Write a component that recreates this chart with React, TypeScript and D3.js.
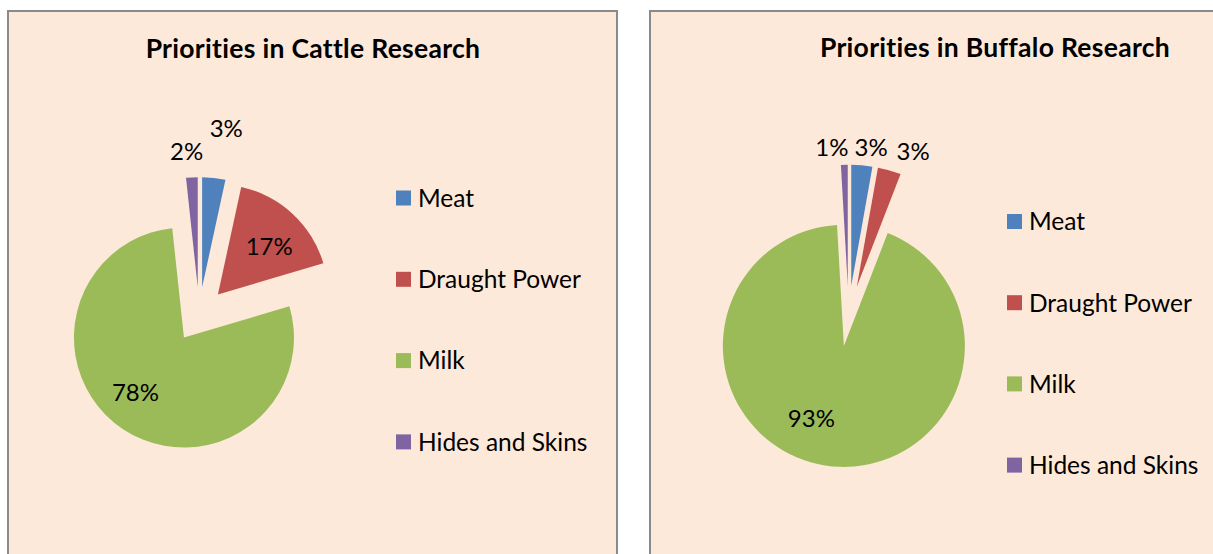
import React from 'react';
import * as d3 from 'd3';

const categories = ['Meat', 'Draught Power', 'Milk', 'Hides and Skins'];
const cattleValues = [3.4, 17.0, 77.9, 1.7];
const buffaloValues = [2.8, 3.1, 93.2, 0.9];
const titles = ['Priorities in Cattle Research', 'Priorities in Buffalo Research'];
const colors = ['#4F81BD', '#C0504D', '#9BBB59', '#8064A2'];

// label placement: [angle offset from slice mid (deg), radius factor]
const cattleLabelPlacement = [[2.5, 1.465], [4, 0.64], [7.7, 0.667], [-1.6, 1.24]];
const buffaloLabelPlacement = [[3.1, 1.16], [7.0, 1.21], [15, 0.66], [-4.9, 1.155]];

const FONT = "Lato, 'Open Sans', sans-serif";
const LABEL_FS = 24;
const LEGEND_FS = 24.5;
const TITLE_FS = 26.5;

type PanelCfg = {
  x: number; y: number; w: number; h: number;
  cx: number; cy: number; r: number; explode: number;
  titleX: number; titleY: number;
  legendX: number; legendY0: number; legendStep: number;
  values: number[]; title: string; placement: number[][];
};

const panels: PanelCfg[] = [
  {
    x: 8, y: 11, w: 609, h: 580, cx: 199.2, cy: 314.7, r: 110, explode: 0.25,
    titleX: 313, titleY: 58.3, legendX: 396, legendY0: 198, legendStep: 81.3,
    values: cattleValues, title: titles[0], placement: cattleLabelPlacement,
  },
  {
    x: 650, y: 11, w: 700, h: 580, cx: 848.6, cy: 316, r: 121, explode: 0.25,
    titleX: 995, titleY: 57.3, legendX: 1007, legendY0: 221.5, legendStep: 81.2,
    values: buffaloValues, title: titles[1], placement: buffaloLabelPlacement,
  },
];

function Panel({ cfg }: { cfg: PanelCfg }) {
  const pie = d3.pie<number>().sort(null).value((d) => d);
  const arcs = pie(cfg.values);
  const arc = d3.arc<d3.PieArcDatum<number>>().innerRadius(0).outerRadius(cfg.r);
  const total = d3.sum(cfg.values);
  const e = cfg.explode * cfg.r;
  const toRad = Math.PI / 180;

  return (
    <g>
      <rect x={cfg.x} y={cfg.y} width={cfg.w} height={cfg.h} fill="#FDE9D9" stroke="#8A8A8A" strokeWidth={2} />
      <text x={cfg.titleX} y={cfg.titleY} textAnchor="middle" fontFamily={FONT} fontWeight="bold" fontSize={TITLE_FS}
        letterSpacing={0.3} style={{ fontVariantLigatures: 'none' }} fill="#000">
        {cfg.title}
      </text>
      {arcs.map((a, i) => {
        const mid = (a.startAngle + a.endAngle) / 2;
        const dx = cfg.cx + e * Math.sin(mid);
        const dy = cfg.cy - e * Math.cos(mid);
        return <path key={i} d={arc(a) || ''} transform={`translate(${dx},${dy})`} fill={colors[i]} />;
      })}
      {arcs.map((a, i) => {
        const mid = (a.startAngle + a.endAngle) / 2;
        const dx = cfg.cx + e * Math.sin(mid);
        const dy = cfg.cy - e * Math.cos(mid);
        const [off, rf] = cfg.placement[i];
        const ang = mid + off * toRad;
        const lx = dx + rf * cfg.r * Math.sin(ang);
        const ly = dy - rf * cfg.r * Math.cos(ang);
        return (
          <text key={i} x={lx} y={ly + 0.36 * LABEL_FS} textAnchor="middle" fontFamily={FONT} fontSize={LABEL_FS} fill="#000">
            {Math.round((a.data / total) * 100) + '%'}
          </text>
        );
      })}
      {categories.map((c, i) => {
        const cy = cfg.legendY0 + i * cfg.legendStep;
        return (
          <g key={c}>
            <rect x={cfg.legendX} y={cy - 7.5} width={15} height={15} fill={colors[i]} />
            <text x={cfg.legendX + 22} y={cy + 0.36 * LEGEND_FS} fontFamily={FONT} fontSize={LEGEND_FS} fill="#000">
              {c}
            </text>
          </g>
        );
      })}
    </g>
  );
}

export default function App() {
  return (
    <svg width={1213} height={554} style={{ position: 'absolute', left: 0, top: 0, background: '#fff' }}>
      {panels.map((p, i) => <Panel key={i} cfg={p} />)}
    </svg>
  );
}
